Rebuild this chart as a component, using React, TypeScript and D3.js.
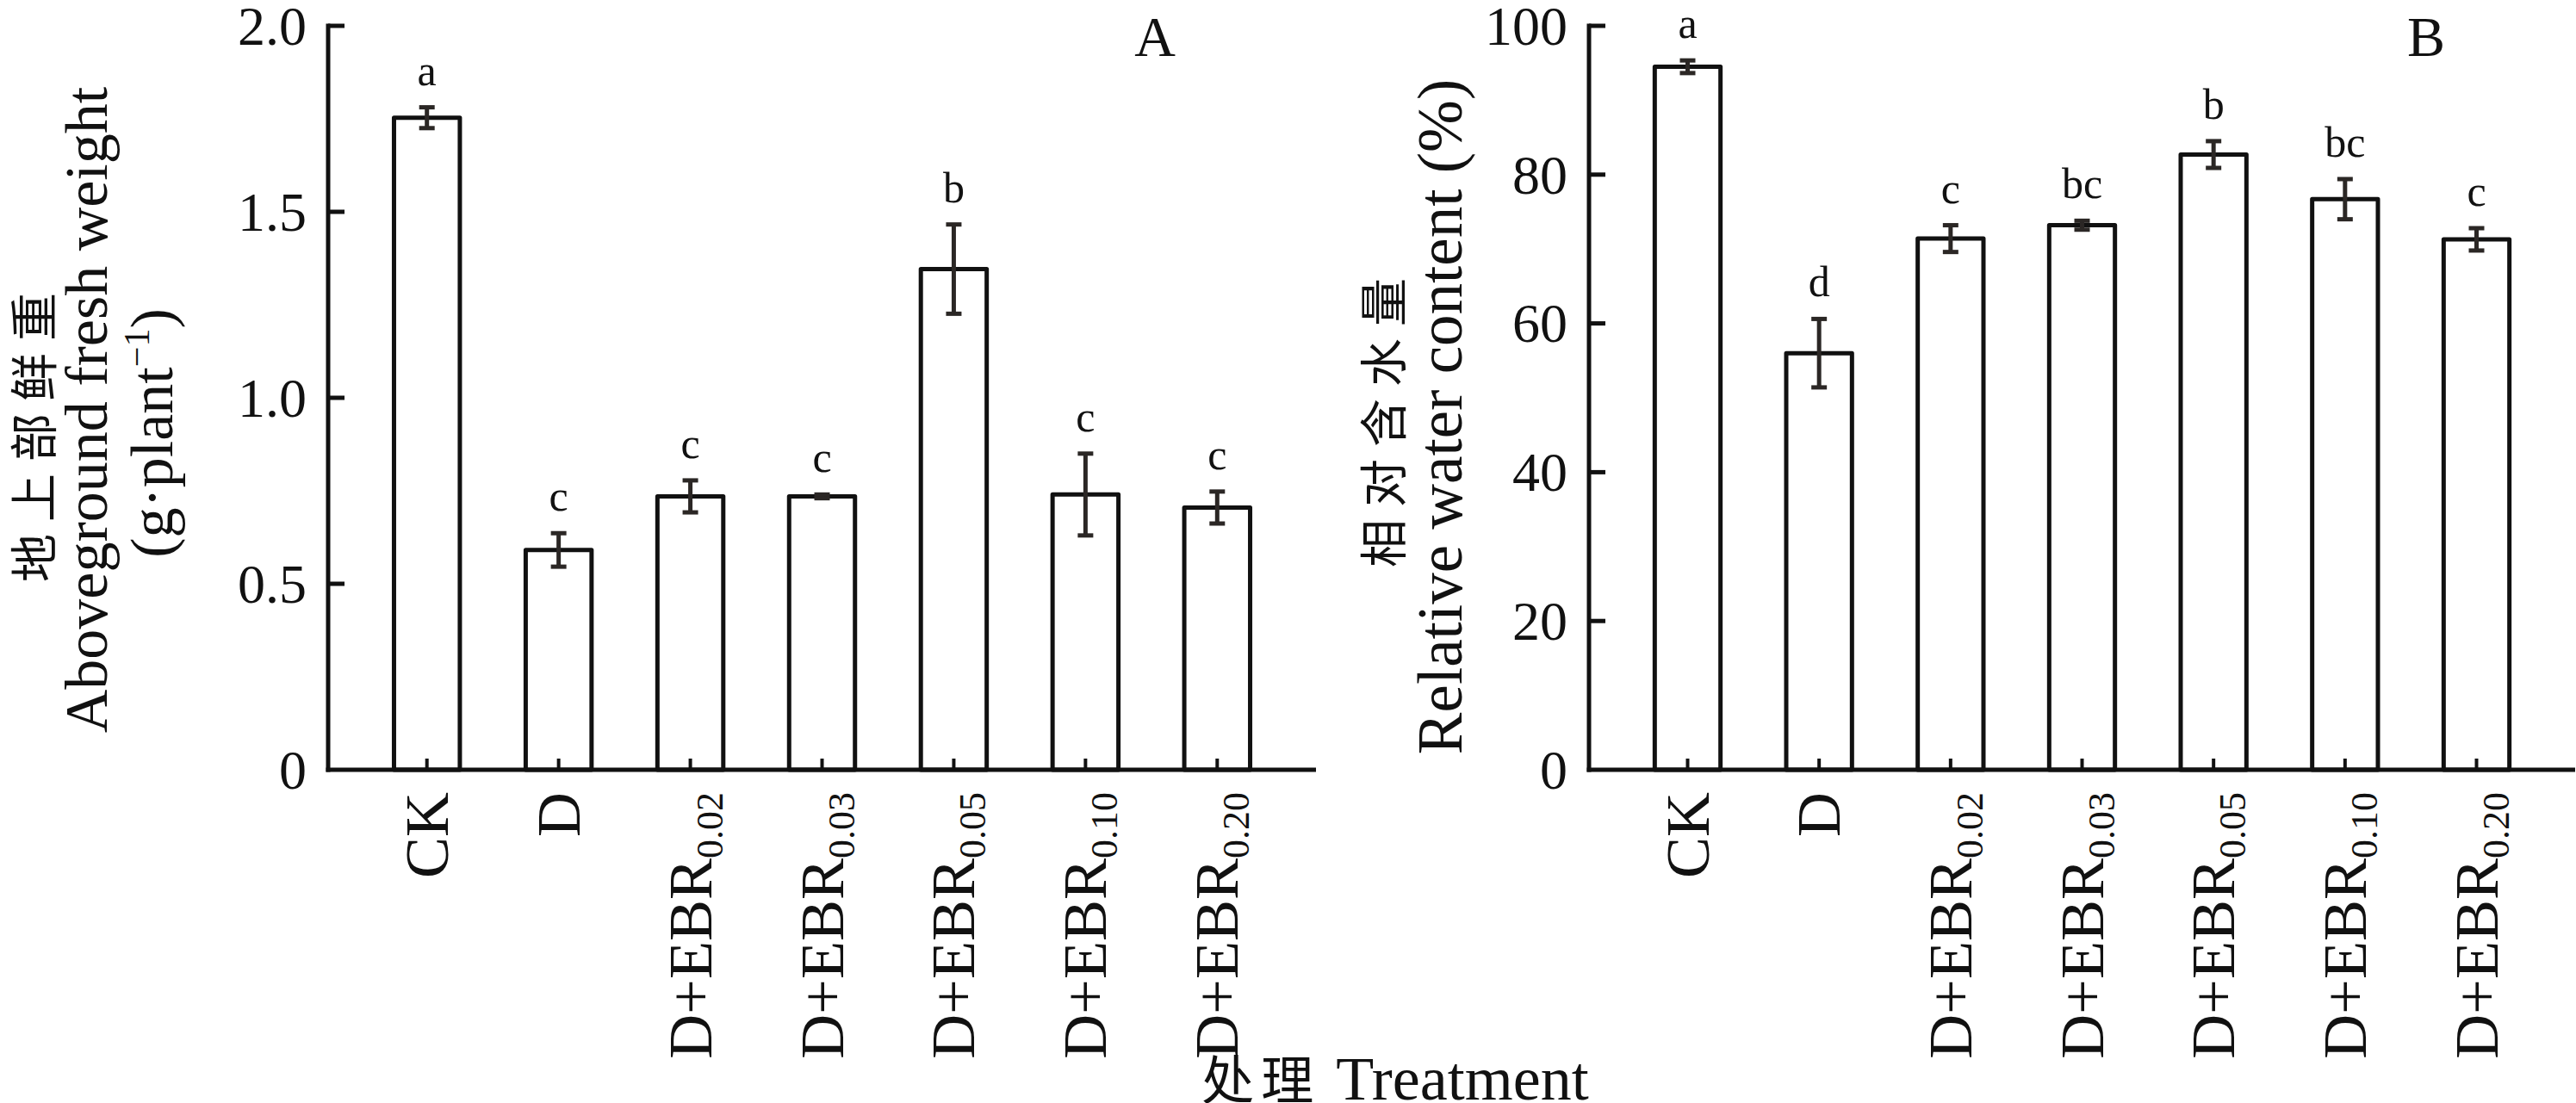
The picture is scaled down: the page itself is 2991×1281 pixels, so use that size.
import { useMemo } from 'react'
import * as d3 from 'd3'

// treatments (main text + subscript)
const treatments = ['CK', 'D', 'D+EBR', 'D+EBR', 'D+EBR', 'D+EBR', 'D+EBR']
const treatmentSubs = ['', '', '0.02', '0.03', '0.05', '0.10', '0.20']

// panel A: aboveground fresh weight (g·plant-1)
const freshWeight = [1.753, 0.591, 0.735, 0.735, 1.346, 0.74, 0.705]
const freshWeightErr = [0.028, 0.045, 0.043, 0.005, 0.12, 0.11, 0.043]
const freshWeightLetters = ['a', 'c', 'c', 'c', 'b', 'c', 'c']
const freshTicks = [0, 0.5, 1.0, 1.5, 2.0]
const freshTickLabels = ['0', '0.5', '1.0', '1.5', '2.0']

// panel B: relative water content (%)
const waterContent = [94.5, 56.0, 71.4, 73.2, 82.7, 76.7, 71.3]
const waterContentErr = [0.85, 4.6, 1.8, 0.6, 1.8, 2.7, 1.5]
const waterLetters = ['a', 'd', 'c', 'bc', 'b', 'bc', 'c']
const waterTicks = [0, 20, 40, 60, 80, 100]
const waterTickLabels = ['0', '20', '40', '60', '80', '100']

const W = 2991
const H = 1281
const SERIF = '"Liberation Serif", "Times New Roman", serif'
const CJK = '"Noto Sans CJK SC", sans-serif'
const INK = '#111'
const ERR = '#2b2725'

const yTop = 30
const yBottom = 894

type PanelProps = {
  x0: number
  x1: number
  domain: [number, number]
  ticks: number[]
  tickLabels: string[]
  values: number[]
  errs: number[]
  letters: string[]
  tag: string
  tagX: number
}

function Panel({ x0, x1, domain, ticks, tickLabels, values, errs, letters, tag, tagX }: PanelProps) {
  const x = useMemo(
    () => d3.scaleBand<number>().domain(d3.range(values.length)).range([x0, x1]).paddingInner(0.5).paddingOuter(0.5),
    [x0, x1, values.length]
  )
  const y = useMemo(() => d3.scaleLinear().domain(domain).range([yBottom, yTop]), [domain])
  const bw = x.bandwidth()

  return (
    <g>
      {/* bars */}
      {values.map((v, i) => (
        <rect
          key={'b' + i}
          x={x(i)!}
          y={y(v)}
          width={bw}
          height={y(0) - y(v)}
          fill="#fff"
          stroke={INK}
          strokeWidth={5}
          strokeLinejoin="round"
        />
      ))}
      {/* error bars */}
      {values.map((v, i) => {
        const cx = x(i)! + bw / 2
        const hi = y(v + errs[i])
        const lo = y(v - errs[i])
        return (
          <g key={'e' + i} stroke={ERR} strokeWidth={5}>
            <line x1={cx} x2={cx} y1={hi} y2={lo} />
            <line x1={cx - 9} x2={cx + 9} y1={hi} y2={hi} />
            <line x1={cx - 9} x2={cx + 9} y1={lo} y2={lo} />
          </g>
        )
      })}
      {/* significance letters */}
      {values.map((v, i) => (
        <text
          key={'l' + i}
          x={x(i)! + bw / 2}
          y={y(v + errs[i]) - 26}
          textAnchor="middle"
          fontFamily={SERIF}
          fontSize={50}
          fill={INK}
        >
          {letters[i]}
        </text>
      ))}
      {/* x ticks at bar centres, pointing inward */}
      {values.map((_v, i) => {
        const cx = x(i)! + bw / 2
        return <line key={'xt' + i} x1={cx} x2={cx} y1={yBottom} y2={yBottom - 13} stroke={INK} strokeWidth={4} />
      })}
      {/* axes */}
      <line x1={x0} x2={x0} y1={yTop - 2.5} y2={yBottom + 2.5} stroke={INK} strokeWidth={5} />
      <line x1={x0 - 2.5} x2={x1} y1={yBottom} y2={yBottom} stroke={INK} strokeWidth={5} />
      {ticks.map((t, i) => (
        <g key={'yt' + i}>
          {i > 0 && <line x1={x0} x2={x0 + 19} y1={y(t)} y2={y(t)} stroke={INK} strokeWidth={5} />}
          <text
            x={x0 - 25}
            y={y(t)}
            dy="0.34em"
            textAnchor="end"
            fontFamily={SERIF}
            fontSize={64}
            fill={INK}
          >
            {tickLabels[i]}
          </text>
        </g>
      ))}
      {/* category labels, rotated */}
      {values.map((_v, i) => {
        const cx = x(i)! + bw / 2
        return (
          <text
            key={'xl' + i}
            transform={`translate(${cx + 24},${yBottom + 26}) rotate(-90)`}
            textAnchor="end"
            fontFamily={SERIF}
            fontSize={72}
            fill={INK}
          >
            {treatments[i]}
            {treatmentSubs[i] && (
              <tspan fontSize={44} dy={13}>
                {treatmentSubs[i]}
              </tspan>
            )}
          </text>
        )
      })}
      {/* panel tag */}
      <text x={tagX} y={65} textAnchor="middle" fontFamily={SERIF} fontSize={66} fill={INK}>
        {tag}
      </text>
    </g>
  )
}

export default function App() {
  return (
    <svg
      width={W}
      height={H}
      viewBox={`0 0 ${W} ${H}`}
      style={{ position: 'absolute', left: 0, top: 0, background: '#fff' }}
    >
      <rect width={W} height={H} fill="#fff" />

      <Panel
        x0={381}
        x1={1528}
        domain={[0, 2]}
        ticks={freshTicks}
        tickLabels={freshTickLabels}
        values={freshWeight}
        errs={freshWeightErr}
        letters={freshWeightLetters}
        tag="A"
        tagX={1341}
      />
      <Panel
        x0={1845}
        x1={2990}
        domain={[0, 100]}
        ticks={waterTicks}
        tickLabels={waterTickLabels}
        values={waterContent}
        errs={waterContentErr}
        letters={waterLetters}
        tag="B"
        tagX={2817}
      />

      {/* y title A */}
      <text
        transform="translate(35,501) rotate(-90)"
        textAnchor="middle"
        dominantBaseline="central"
        fontFamily={CJK}
        fontSize={56}
        letterSpacing={14}
        fill={INK}
      >
        地上部鲜重
      </text>
      <text transform="translate(124,476) rotate(-90)" textAnchor="middle" fontFamily={SERIF} fontSize={70} fill={INK}>
        Aboveground fresh weight
      </text>
      <text transform="translate(200,503) rotate(-90)" textAnchor="middle" fontFamily={SERIF} fontSize={70} fill={INK}>
        (g·plant
        <tspan fontSize={42} dy={-27}>
          −1
        </tspan>
        <tspan dy={27}>)</tspan>
      </text>

      {/* y title B */}
      <text
        transform="translate(1602,484) rotate(-90)"
        textAnchor="middle"
        dominantBaseline="central"
        fontFamily={CJK}
        fontSize={56}
        letterSpacing={14}
        fill={INK}
      >
        相对含水量
      </text>
      <text transform="translate(1697,484) rotate(-90)" textAnchor="middle" fontFamily={SERIF} fontSize={73} fill={INK}>
        Relative water content (%)
      </text>

      {/* x title */}
      <text x={1620} y={1277} textAnchor="middle" fill={INK}>
        <tspan fontFamily={CJK} fontSize={61} letterSpacing={8}>
          处理
        </tspan>
        <tspan fontFamily={SERIF} fontSize={72}>
          {' '}Treatment
        </tspan>
      </text>
    </svg>
  )
}
